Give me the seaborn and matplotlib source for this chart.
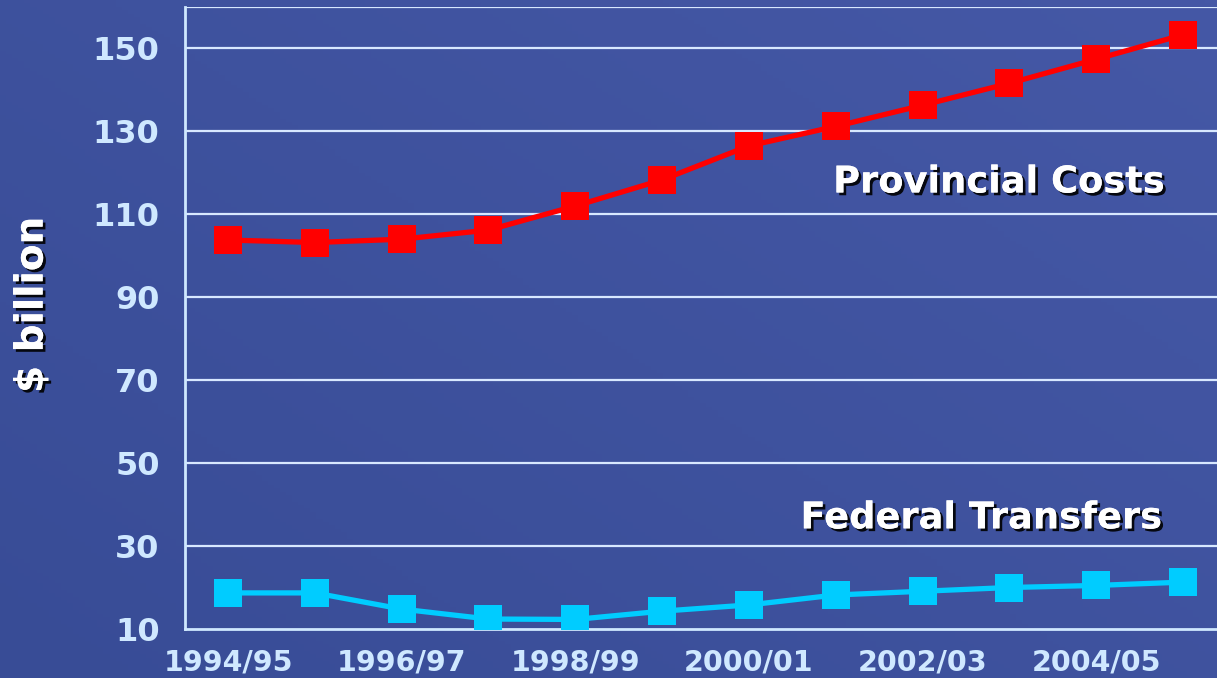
import numpy as np
import pandas as pd
import matplotlib
matplotlib.use("Agg")
import matplotlib.pyplot as plt
import matplotlib.patheffects as pe
import seaborn as sns

# fiscal years and values ($ billion)
years = ["1994/95", "1995/96", "1996/97", "1997/98", "1998/99", "1999/00",
         "2000/01", "2001/02", "2002/03", "2003/04", "2004/05", "2005/06"]
provincial = [103.8, 103.2, 104.0, 106.2, 112.0, 118.3,
              126.5, 131.2, 136.3, 141.6, 147.4, 153.3]
federal = [18.7, 18.7, 14.8, 12.4, 12.3, 14.3,
           15.8, 18.2, 19.1, 20.0, 20.5, 21.3]
yticks = [10, 30, 50, 70, 90, 110, 130, 150]

df = pd.DataFrame({"year": years * 2,
                   "value": provincial + federal,
                   "series": ["Provincial Costs"] * 12 + ["Federal Transfers"] * 12})

sns.set_style("white")
plt.rcParams["font.family"] = ["DejaVu Sans"]
plt.rcParams["font.weight"] = "bold"

bg = "#3b4f99"
light = "#cfe8ff"
fig = plt.figure(figsize=(12.17, 6.78), dpi=100, facecolor=bg)

# soft background gradient (slightly lighter towards top right)
bga = fig.add_axes([0, 0, 1, 1], zorder=-10)
gx, gy = np.meshgrid(np.linspace(0, 1, 200), np.linspace(0, 1, 200))
grad = 0.55 * gx + 0.45 * (1 - gy)
cmap = matplotlib.colors.LinearSegmentedColormap.from_list("bgc", ["#384c96", "#4558a6"])
bga.imshow(grad, cmap=cmap, aspect="auto", extent=[0, 1, 0, 1])
bga.axis("off")

ax = fig.add_axes([0.1517, 0.0723, 0.856, 0.9174])
ax.set_facecolor("none")

sns.lineplot(data=df, x="year", y="value", hue="series",
             palette={"Provincial Costs": "#ff0000", "Federal Transfers": "#00ccff"},
             marker="s", markersize=20, markeredgewidth=0, linewidth=3.8,
             legend=False, ax=ax, zorder=5)

ax.set_ylim(10, 160)
ax.set_xlim(-0.5, 11.5)
ax.set_yticks(yticks)
ax.set_yticklabels([str(v) for v in yticks])
for v in yticks + [160]:
    if v > 10:
        ax.axhline(v, color="#d8e8ff", lw=1.6, zorder=1)

ax.set_xticks(np.arange(-0.5, 12, 1))
ax.set_xticklabels([])
ax.set_xticks(range(0, 12, 2), minor=True)
ax.set_xticklabels(years[::2], minor=True)
ax.tick_params(axis="x", which="major", length=9, width=1.5, color=light, direction="out")
ax.tick_params(axis="x", which="minor", length=0, pad=14, labelsize=20.5, labelcolor=light)
ax.tick_params(axis="y", length=12, width=1.5, color=light, direction="out",
               labelsize=23, labelcolor=light, pad=6)

for s in ["top", "right"]:
    ax.spines[s].set_visible(False)
for s in ["left", "bottom"]:
    ax.spines[s].set_color(light)
    ax.spines[s].set_linewidth(2)

ax.set_xlabel("")
ax.set_ylabel("")

shadow = [pe.withSimplePatchShadow(offset=(2, -2), shadow_rgbFace="black", alpha=0.9), pe.Normal()]
fig.text(0.026, 0.55, "$ billion", rotation=90, color="white", fontsize=28,
         fontweight="bold", ha="center", va="center", path_effects=shadow)
ax.text(8.88, 117.8, "Provincial Costs", color="white", fontsize=26.5, fontweight="bold",
        ha="center", va="center", path_effects=shadow)
ax.text(8.68, 36.8, "Federal Transfers", color="white", fontsize=26.5, fontweight="bold",
        ha="center", va="center", path_effects=shadow)

fig.savefig("out.png", dpi=100, facecolor=bg)
